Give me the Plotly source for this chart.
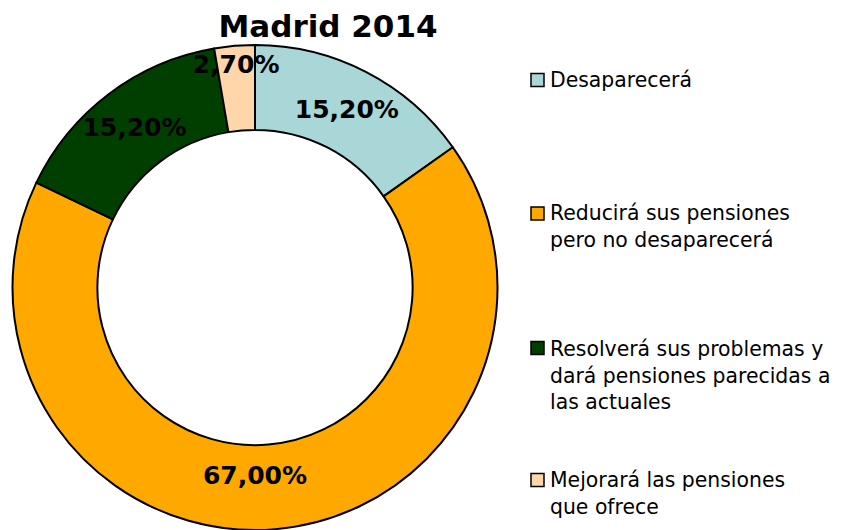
import plotly.graph_objects as go

# page has an 8px body margin: build the figure to fit inside it
OFF = 8
W, H = 841 - OFF, 530 - OFF

categories = [
    "Desaparecerá",
    "Reducirá sus pensiones pero no desaparecerá",
    "Resolverá sus problemas y dará pensiones parecidas a las actuales",
    "Mejorará las pensiones que ofrece",
]
legend_labels = [
    "Desaparecerá",
    "Reducirá sus pensiones<br>pero no desaparecerá",
    "Resolverá sus problemas y<br>dará pensiones parecidas a<br>las actuales",
    "Mejorará las pensiones<br>que ofrece",
]
values = [15.2, 67.0, 15.2, 2.7]
colors = ["#A9D6D6", "#FFA800", "#003F00", "#FFD6A9"]
title_text = "Madrid 2014"


def px(x):
    return (x - OFF) / W


def py(y):
    return 1 - (y - OFF) / H


fig = go.Figure()
fig.add_trace(go.Pie(
    labels=categories,
    values=values,
    hole=0.65,
    sort=False,
    direction="clockwise",
    rotation=0,
    marker=dict(colors=colors, line=dict(color="#000000", width=2)),
    texttemplate="%{value:.2f}%",
    textposition="inside",
    insidetextorientation="horizontal",
    textfont=dict(family="DejaVu Sans", size=25, color="#000000", weight="bold"),
    hoverinfo="label+value",
    showlegend=False,
    domain=dict(x=[px(12), px(498)], y=[0, py(45)]),
))

# legend drawn manually (squares + text)
legend_centers = [80, 226.5, 375, 493.5]
first_line = [80, 213.5, 348, 480]
for lab, col, yc, yf in zip(legend_labels, colors, legend_centers, first_line):
    fig.add_shape(type="rect", xref="paper", yref="paper",
                  x0=px(531), x1=px(544), y0=py(yf - 6.5), y1=py(yf + 6.5),
                  fillcolor=col, line=dict(color="#000000", width=1.5))
    fig.add_annotation(text=lab, xref="paper", yref="paper", x=px(548), y=py(yc),
                       xanchor="left", yanchor="middle", align="left", showarrow=False,
                       font=dict(family="DejaVu Sans", size=20.4, color="#000000"))

fig.update_layout(
    width=W, height=H,
    margin=dict(l=0, r=0, t=0, b=0),
    paper_bgcolor="white", plot_bgcolor="white",
    separators=",.",
    title=dict(text="<b>" + title_text + "</b>", x=px(328), xanchor="center",
               y=py(26), yanchor="middle",
               font=dict(family="DejaVu Sans", size=31, color="#000000")),
    uniformtext=dict(minsize=25, mode="show"),
)

fig.write_html("out.html")
